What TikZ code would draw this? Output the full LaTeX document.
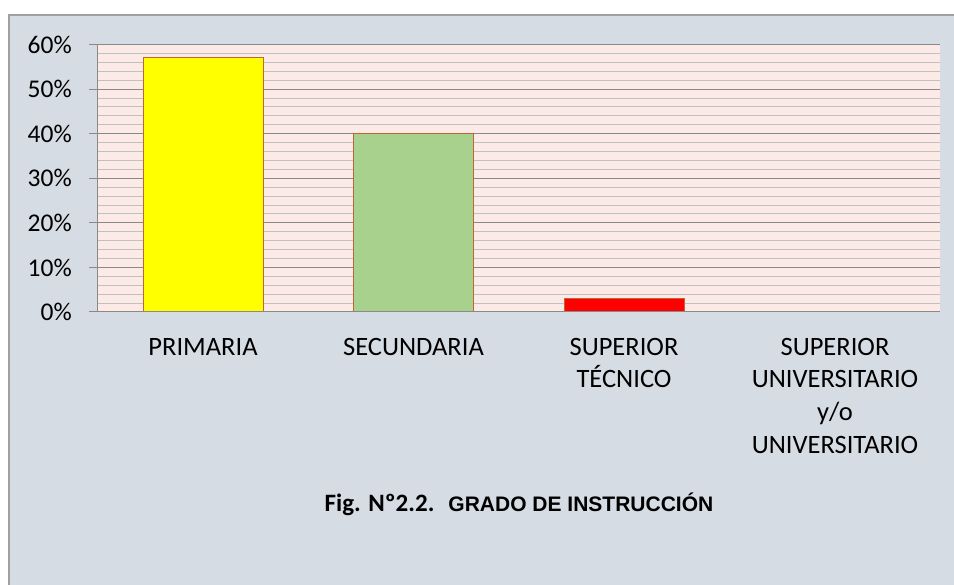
\documentclass[tikz,border=0pt]{standalone}
\usepackage{fontspec}
\setmainfont{Carlito}
\newfontfamily\arialb{Liberation Sans}
\definecolor{bgc}{RGB}{214,220,228}
\definecolor{plotc}{RGB}{251,234,229}
\definecolor{majc}{RGB}{137,137,137}
\definecolor{minc}{RGB}{192,192,192}
\definecolor{framec}{RGB}{160,160,160}
\definecolor{barline}{RGB}{196,100,50}
\definecolor{greenbar}{RGB}{169,209,142}
\definecolor{yellowbar}{RGB}{255,255,0}
\tikzset{
  barbox/.style={draw=barline, line width=0.8pt},
  ylab/.style={anchor=east, inner sep=0pt, font=\fontsize{25.5}{28}\selectfont},
  xlab/.style={anchor=north, inner sep=0pt, align=center, font=\fontsize{26.5}{32.6}\selectfont},
}
\begin{document}
\begin{tikzpicture}[x=1pt,y=-1pt]
\useasboundingbox (0,0) rectangle (954,585);
\fill[white] (0,0) rectangle (954,585);
\fill[bgc] (9,15) rectangle (954,585);
\draw[framec, line width=1.2pt] (9,585) -- (9,15) -- (954,15);
% plot area
\fill[plotc] (97.5,44.5) rectangle (940,312);
\foreach \i in {1,...,29}{
  \draw[minc, line width=0.9pt] (97.5,{312-\i*8.9167}) -- (940,{312-\i*8.9167});
}
\foreach \i in {1,...,6}{
  \draw[majc, line width=1.0pt] (89,{312-\i*44.583}) -- (940,{312-\i*44.583});
}
\draw[majc, line width=1.0pt] (97.5,44.5) -- (97.5,312);
% bars
\node[barbox, fill=yellowbar, minimum width=120pt, minimum height=254.1pt, inner sep=0pt, anchor=south] (b1) at (203,312) {};
\node[barbox, fill=greenbar, minimum width=120pt, minimum height=178.3pt, inner sep=0pt, anchor=south] (b2) at (413.5,312) {};
\node[barbox, fill=red, minimum width=120pt, minimum height=13.4pt, inner sep=0pt, anchor=south] (b3) at (624,312) {};
\draw[majc, line width=1.0pt] (89,312) -- (940,312);
% y labels
\foreach \v/\t in {0/0\%,1/10\%,2/20\%,3/30\%,4/40\%,5/50\%,6/60\%}{
  \node[ylab] (y\v) at (72,{312-\v*44.583}) {\t};
}
% x labels
\node[xlab] (c1) at (203,338) {PRIMARIA};
\node[xlab] (c2) at (413.5,338) {SECUNDARIA};
\node[xlab] (c3) at (624,338) {SUPERIOR\\TÉCNICO};
\node[xlab] (c4) at (835,338) {SUPERIOR\\UNIVERSITARIO\\y/o\\UNIVERSITARIO};
% title
\node[anchor=base, inner sep=0pt] (title) at (519,511.7) {\fontsize{25}{28}\selectfont\bfseries Fig. Nº2.2.\hspace{14pt}{\arialb\fontsize{21}{24}\selectfont GRADO DE INSTRUCCIÓN}};
\end{tikzpicture}
\end{document}
